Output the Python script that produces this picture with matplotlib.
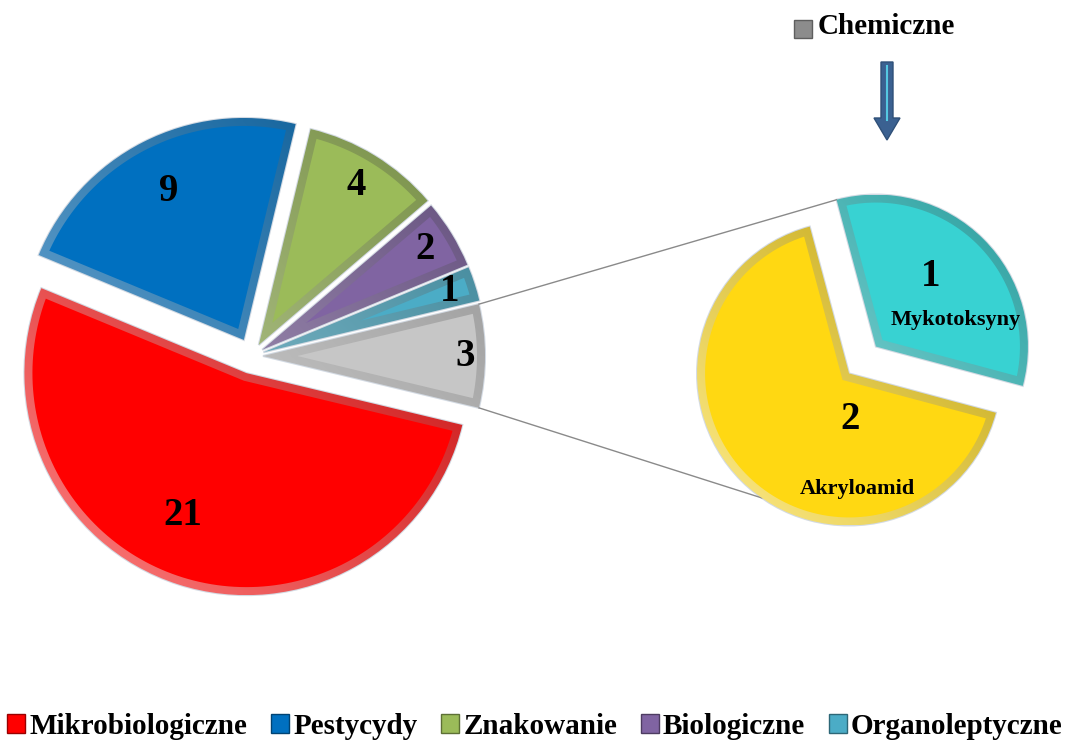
import numpy as np
import matplotlib.pyplot as plt
from matplotlib.patches import Polygon, Rectangle, FancyArrow
from matplotlib.colors import to_rgb

plt.rcParams['font.family'] = ['Liberation Serif', 'DejaVu Serif']
plt.rcParams['font.weight'] = 'bold'

# main pie: complaint categories
categories = ['Mikrobiologiczne', 'Pestycydy', 'Znakowanie', 'Biologiczne',
              'Organoleptyczne', 'Chemiczne']
counts = [21, 9, 4, 2, 1, 3]
colors = ['#ff0000', '#0070c0', '#9bbb59', '#8064a2', '#4bacc6', '#c6c6c6']

# second pie: breakdown of "Chemiczne"
chem_types = ['Mykotoksyny', 'Akryloamid']
chem_counts = [1, 2]
chem_colors = ['#38d2d2', '#ffd812']

W, H = 1070, 744
fig = plt.figure(figsize=(W / 100, H / 100), dpi=100)
ax = fig.add_axes([0, 0, 1, 1])

left_c, left_r = (252, 388), 222
right_c, right_r = (862.5, 384), 152


def shade(c, f):
    c = np.array(to_rgb(c))
    if f > 0:
        return tuple(c + (1 - c) * f)
    return tuple(c * (1 + f))


def bevel(w, color, d=9):
    # light/dark gradient on the outer band, flat colour on the inner face
    cx, cy = w.center
    r = w.r
    g = np.linspace(0, 1, 64)
    gx, gy = np.meshgrid(g, g)
    t = (gx + (1 - gy)) / 2  # 0 at top-left, 1 at bottom-right
    base = np.array(to_rgb(color))
    img = np.zeros((64, 64, 4))
    light = base + (1 - base) * 0.5
    dark = base * 0.75
    for i in range(3):
        img[..., i] = light[i] * (1 - t) + dark[i] * t
    img[..., 3] = 1
    im = ax.imshow(img, extent=(cx - r, cx + r, cy - r, cy + r), origin='upper',
                   zorder=2, interpolation='bilinear')
    im.set_clip_path(w)

    t1, t2 = np.radians(w.theta1), np.radians(w.theta2)
    tm = (t1 + t2) / 2
    k = d / np.sin((t2 - t1) / 2)
    px, py = cx + k * np.cos(tm), cy + k * np.sin(tm)
    rr = r - d
    da = np.arctan2(d, np.sqrt(rr ** 2 - d ** 2))
    th = np.linspace(t1 + da, t2 - da, 120)
    pts = [(px, py)] + list(zip(cx + rr * np.cos(th), cy + rr * np.sin(th)))
    ax.add_patch(Polygon(pts, closed=True, fc=color, ec='none', zorder=3))


wl, _ = ax.pie(counts, colors=colors, center=left_c, radius=left_r,
               startangle=-13.5, counterclock=False,
               explode=[18, 18, 13, 12, 12, 11],
               wedgeprops=dict(edgecolor='#d3dae3', linewidth=1.5))
wr, _ = ax.pie(chem_counts, colors=chem_colors, center=right_c, radius=right_r,
               startangle=-15, counterclock=True, explode=[19, 19],
               wedgeprops=dict(edgecolor='#d3dae3', linewidth=1.5))

for w, c in zip(wl, colors):
    bevel(w, c, d=8)
for w, c in zip(wr, chem_colors):
    bevel(w, c, d=8)


def polar(w, ang, frac):
    a = np.radians(ang)
    return (w.center[0] + frac * w.r * np.cos(a),
            w.center[1] + frac * w.r * np.sin(a))


# value labels on the main pie
label_frac = [0.70, 0.75, 0.84, 0.86, 0.88, 0.91]
label_turn = [-6, 0, 0, 0, 0, 0]
for w, v, f, dt in zip(wl, counts, label_frac, label_turn):
    tm = (w.theta1 + w.theta2) / 2 + dt
    ax.text(*polar(w, tm, f), str(v), fontsize=28, fontweight='bold',
            ha='center', va='center', zorder=5)

num_pos = [(52, 0.585), (271, 0.30)]
name_pos = [(18.6, 0.555), (274, 0.76)]
for w, v, name, npos, lpos in zip(wr, chem_counts, chem_types, num_pos, name_pos):
    ax.text(*polar(w, *npos), str(v), fontsize=28, fontweight='bold',
            ha='center', va='center', zorder=5)
    ax.text(*polar(w, *lpos), name, fontsize=16, fontweight='bold',
            ha='center', va='center', zorder=5)

# connector lines between the "Chemiczne" slice and the second pie
g = wl[-1]
p_top = polar(g, max(g.theta1, g.theta2), 1.0)
p_bot = polar(g, min(g.theta1, g.theta2), 1.0)
q_top = polar(wr[0], wr[0].theta2, 1.0)
q_bot = polar(wr[1], 235, 1.0)
ax.plot([p_top[0], q_top[0]], [p_top[1], q_top[1]], color='#8a8a8a', lw=1, zorder=1)
ax.plot([p_bot[0], q_bot[0]], [p_bot[1], q_bot[1]], color='#8a8a8a', lw=1, zorder=1)

# "Chemiczne" key and arrow
ax.add_patch(Rectangle((794, H - 38), 18, 18, fc='#8c8c8c', ec='#5e5e5e', lw=1))
ax.text(818, H - 27, categories[-1], fontsize=21, fontweight='bold',
        ha='left', va='center')
ax.add_patch(FancyArrow(887, H - 62, 0, -78, width=12, head_width=26,
                        head_length=22, length_includes_head=True,
                        fc='#3b6191', ec='#2f5078', lw=1))
ax.plot([887, 887], [H - 66, H - 120], color='#55c8e2', lw=1.5)

# bottom legend
handles = [Rectangle((0, 0), 1, 1, fc=c, ec=shade(c, -0.4), lw=1)
           for c in colors[:5]]
ax.legend(handles, categories[:5], loc='lower center', ncol=5,
          bbox_to_anchor=(0.5, -0.002), frameon=False,
          prop=dict(size=21, weight='bold'), handlelength=0.62,
          handleheight=0.62, handletextpad=0.15, columnspacing=0.8,
          borderaxespad=0, borderpad=0.2)

ax.set_xlim(0, W)
ax.set_ylim(0, H)
ax.set_aspect('equal')
ax.axis('off')

fig.savefig('out.png', dpi=100)
